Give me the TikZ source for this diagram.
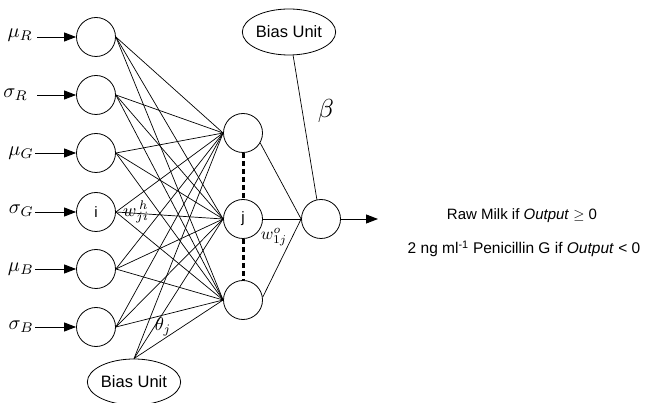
\documentclass[tikz,border=0pt]{standalone}
\usepackage{graphicx}
\usepackage{fontspec}
\setmainfont{Liberation Sans}
\usetikzlibrary{arrows.meta,shapes.geometric}
\newcommand\scmath[2]{\scalebox{#1}{$#2$}}
\begin{document}
\begin{tikzpicture}[x=1pt,y=-1pt,
  neuron/.style={circle,draw,line width=0.8pt,minimum size=39pt,inner sep=0pt,font=\fontsize{15}{17}\selectfont},
  biasunit/.style={ellipse,draw,line width=0.8pt,minimum width=78pt,minimum height=46pt,inner sep=0pt,font=\fontsize{16.5}{18}\selectfont},
  conn/.style={line width=0.7pt},
  arr/.style={line width=0.9pt,-{Triangle[length=12pt,width=9pt]}},
  dotted link/.style={line width=3pt,dash pattern=on 5pt off 3pt},
  inlabel/.style={anchor=east,inner sep=0pt},
  wlabel/.style={inner sep=0pt},
  restext/.style={inner sep=0pt,font=\fontsize{15}{17}\selectfont}]
\useasboundingbox (0,0) rectangle (648,403);

% input layer
\node[neuron] (in1) at (96,37) {};
\node[neuron] (in2) at (96,95) {};
\node[neuron] (in3) at (96,153) {};
\node[neuron] (in4) at (96,212) {i};
\node[neuron] (in5) at (96,269) {};
\node[neuron] (in6) at (96,327) {};

\node[inlabel] (l1) at (33,35) {\scmath{2}{\mu_R}};
\node[inlabel] (l2) at (28,95) {\scmath{2}{\sigma_R}};
\node[inlabel] (l3) at (34,153) {\scmath{2}{\mu_G}};
\node[inlabel] (l4) at (34,211) {\scmath{2}{\sigma_G}};
\node[inlabel] (l5) at (34,269) {\scmath{2}{\mu_B}};
\node[inlabel] (l6) at (34,327) {\scmath{2}{\sigma_B}};

\coordinate (a1) at (37,37);
\coordinate (a2) at (37,95);
\coordinate (a3) at (35,153);
\coordinate (a4) at (35,212);
\coordinate (a5) at (35,269);
\coordinate (a6) at (35,327);
\foreach \k in {1,...,6} \draw[arr] (a\k) -- (in\k.west);

% hidden layer
\node[neuron] (h1) at (243,133) {};
\node[neuron] (h2) at (243,219) {j};
\node[neuron] (h3) at (243,300) {};

\foreach \k in {1,...,6}
  \foreach \h in {1,2,3}
    \draw[conn] (in\k.east) -- (h\h.west);

\draw[dotted link] (h1.south) -- (h2.north);
\draw[dotted link] (h2.south) -- (h3.north);

% bias units
\node[biasunit] (b1) at (134,382) {Bias Unit};
\node[biasunit] (b2) at (289,32) {Bias Unit};
\foreach \h in {1,2,3} \draw[conn] (b1.north) -- (h\h.west);

% output
\node[neuron] (out) at (321,219) {};
\draw[conn] (h1.-30) -- (out.west);
\draw[conn] (h2.east) -- (out.west);
\draw[conn] (h3.8) -- (out.west);
\draw[conn] (b2.-80) -- (out.102);
\coordinate (o) at (378,219);
\draw[arr] (out.east) -- (o);

% weight labels
\node[wlabel] (wh) at (136,212) {\scmath{1.8}{w^{\,h}_{ji}}};
\node[wlabel] (th) at (163,327) {\scmath{1.85}{\theta_j}};
\node[wlabel] (wo) at (274,237) {\scmath{1.7}{w^{o}_{1j}}};
\node[wlabel] (be) at (326,111) {\scmath{2.6}{\beta}};

% result text
\node[restext] (r1) at (522,216) {Raw Milk if \textit{Output} $\geq$ 0};
\node[restext,font=\fontsize{15.5}{17}\selectfont] (r2) at (524,249) {2 ng ml\textsuperscript{-1} Penicillin G if \textit{Output} < 0};
\end{tikzpicture}
\end{document}
